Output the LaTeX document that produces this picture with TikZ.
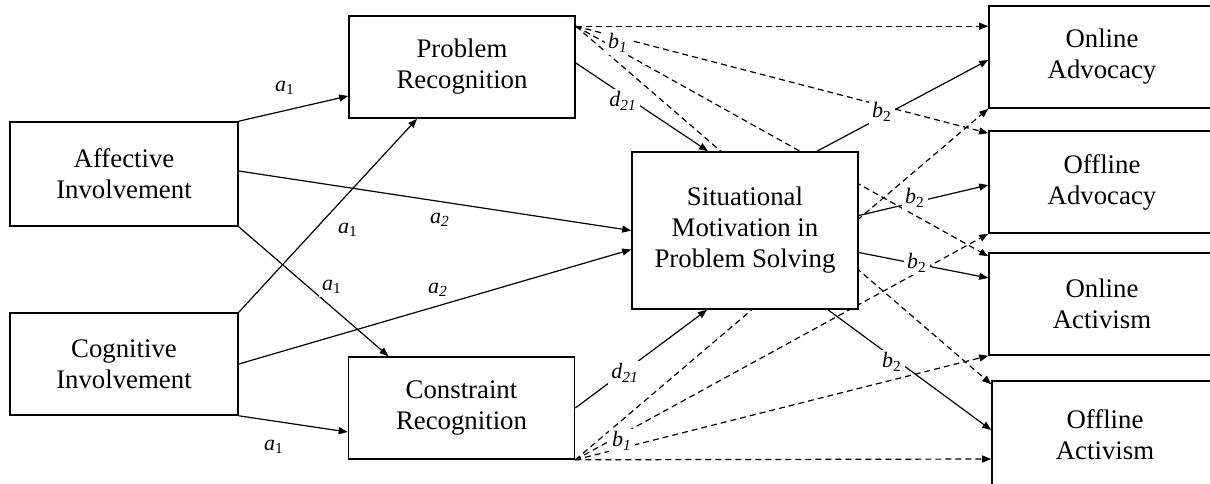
\documentclass[tikz,border=0pt]{standalone}
\usepackage{fontspec}
\setmainfont{Liberation Serif}
\usetikzlibrary{arrows.meta, calc, backgrounds}
\tikzstyle{box} = [rectangle, draw=black, fill=white, line width=0.8pt, minimum width=113pt, minimum height=51pt, inner sep=0pt, align=center, font=\fontsize{13.4}{15.5}\selectfont]
\tikzstyle{coef} = [fill=white, inner sep=1.5pt, font=\fontsize{11}{13}\selectfont]
\tikzstyle{arrow} = [line width=0.6pt, -{Triangle[length=4.5pt,width=3.5pt]}]
\tikzstyle{darrow} = [arrow, dash pattern=on 3pt off 2pt]

\begin{document}
\begin{tikzpicture}[x=0.5pt, y=-0.5pt]
\useasboundingbox (0,0) rectangle (1210,483);
\clip (0,0) rectangle (1210,483);

% involvement
\node at (124,174) (aff) [box, minimum width=114pt, minimum height=52pt] {Affective\\Involvement};
\node at (124,364) (cog) [box, minimum width=114pt] {Cognitive\\Involvement};

% perception
\node at (462,67) (pr) [box] {Problem\\Recognition};
\node at (461.5,408) (con) [box] {Constraint\\Recognition};
\node at (745,230.5) (sit) [box, minimum height=78.5pt] {Situational\\Motivation in\\Problem Solving};

% outcomes
\node at (1102,57) (onadv) [box] {Online\\Advocacy};
\node at (1102,182) (offadv) [box] {Offline\\Advocacy};
\node at (1102,304) (onact) [box] {Online\\Activism};
\node at (1105,435) (offact) [box, minimum height=54pt] {Offline\\Activism};

\begin{pgfonlayer}{background}
\draw [arrow] (aff.north east) -- ($(pr.west)+(0,29)$);
\draw [arrow] (cog.north east) -- ($(pr.south)+(-45,0)$);
\draw [arrow] (aff.south east) -- ($(con.north)+(-73,0)$);
\draw [arrow] (cog.south east) -- ($(con.west)+(0,24)$);
\draw [arrow] ($(aff.east)+(0,-3)$) -- (sit.west);
\draw [arrow] (cog.east) -- ($(sit.west)+(0,19)$);
\draw [arrow] ($(pr.east)+(0,-4)$) -- ($(sit.north)+(-37,0)$);
\draw [arrow] (con.east) -- ($(sit.south)+(-38,0)$);
\draw [arrow] ($(sit.north)+(72,0)$) -- ($(onadv.west)+(0,3)$);
\draw [arrow] ($(sit.east)+(0,-15)$) -- ($(offadv.west)+(0,3)$);
\draw [arrow] ($(sit.east)+(0,22)$) -- ($(onact.west)+(0,-26)$);
\draw [arrow] ($(sit.south)+(83,0)$) -- ($(offact.west)+(0,-5)$);

% direct paths b1
\draw [darrow] ($(pr.north east)+(0,11)$) -- ($(onadv.north west)+(0,21)$);
\draw [darrow] ($(pr.north east)+(0,11)$) -- ($(offadv.north west)+(0,3)$);
\draw [darrow] ($(pr.north east)+(0,11)$) -- ($(onact.north west)+(0,4)$);
\draw [darrow] ($(pr.north east)+(0,11)$) -- ($(offact.north west)+(0,4)$);
\draw [darrow] (con.south east) -- ($(offact.west)+(0,24)$);
\draw [darrow] (con.south east) -- (onact.south west);
\draw [darrow] (con.south east) -- (offadv.south west);
\draw [darrow] (con.south east) -- (onadv.south west);
\end{pgfonlayer}

% coefficients
\node at (285,88) (a1top) [coef] {\textit{a}\textsubscript{1}};
\node at (348,230) (a1mid) [coef] {\textit{a}\textsubscript{1}};
\node at (332,287) (a1low) [coef] {\textit{a}\textsubscript{1}};
\node at (274,447) (a1bot) [coef] {\textit{a}\textsubscript{1}};
\node at (440,220) (a2top) [coef] {\textit{a\textsubscript{2}}};
\node at (438,290) (a2bot) [coef] {\textit{a\textsubscript{2}}};
\node at (623,101) (d21top) [coef] {\textit{d\textsubscript{21}}};
\node at (625,373) (d21bot) [coef] {\textit{d\textsubscript{21}}};
\node at (618,43) (b1top) [coef] {\textit{b\textsubscript{1}}};
\node at (622,441) (b1bot) [coef] {\textit{b\textsubscript{1}}};
\node at (882,112) (b2a) [coef] {\textit{b}\textsubscript{2}};
\node at (915,198) (b2b) [coef] {\textit{b}\textsubscript{2}};
\node at (917,263) (b2c) [coef] {\textit{b}\textsubscript{2}};
\node at (892,362) (b2d) [coef] {\textit{b}\textsubscript{2}};

\end{tikzpicture}
\end{document}
